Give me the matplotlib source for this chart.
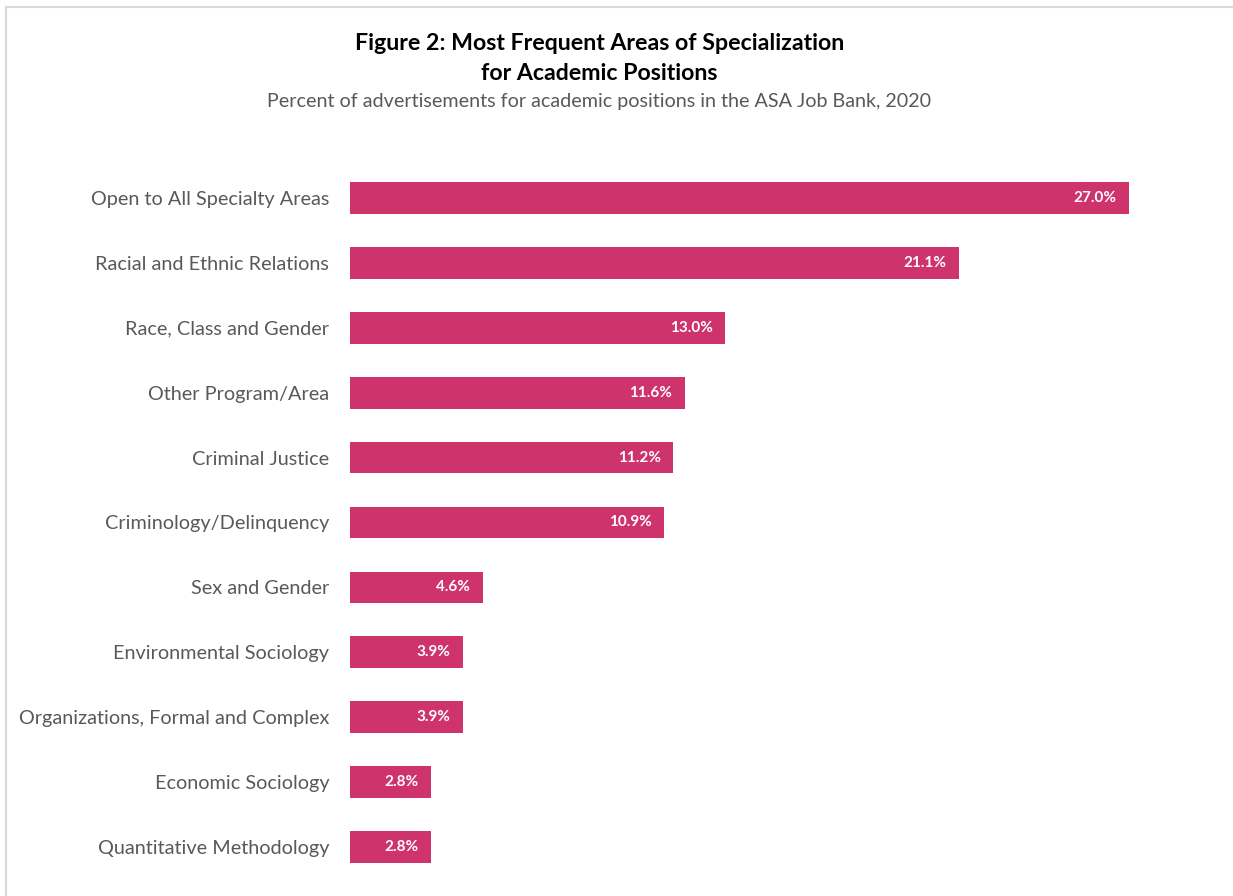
import matplotlib.pyplot as plt
from matplotlib.lines import Line2D

categories = [
    'Open to All Specialty Areas',
    'Racial and Ethnic Relations',
    'Race, Class and Gender',
    'Other Program/Area',
    'Criminal Justice',
    'Criminology/Delinquency',
    'Sex and Gender',
    'Environmental Sociology',
    'Organizations, Formal and Complex',
    'Economic Sociology',
    'Quantitative Methodology',
]
values = [27.0, 21.1, 13.0, 11.6, 11.2, 10.9, 4.6, 3.9, 3.9, 2.8, 2.8]

bar_color = '#CE346B'
plt.rcParams['font.family'] = ['Lato', 'DejaVu Sans']

fig = plt.figure(figsize=(12.33, 8.96), dpi=100)
ax = fig.add_axes([350 / 1233, 1 - 879.5 / 896, 850 / 1233, 714 / 896])

y = list(range(len(categories)))
ax.barh(y, values, height=0.49, color=bar_color)
ax.set_xlim(0, 850 / 28.85)
ax.set_ylim(len(categories) - 0.5, -0.5)

ax.set_yticks(y)
ax.set_yticklabels(categories, fontsize=14.3, color='#595959')
ax.tick_params(axis='y', length=0, pad=15)
ax.set_xticks([])
for s in ax.spines.values():
    s.set_visible(False)

for yi, v in zip(y, values):
    ax.annotate(f'{v:.1f}%', (v, yi), xytext=(-9, 0), textcoords='offset points',
                ha='right', va='center', color='white', fontsize=11, fontweight='bold')

fig.text(0.486, 1 - 44 / 896, 'Figure 2: Most Frequent Areas of Specialization',
         ha='center', va='center', fontsize=16.7, fontweight='bold', color='black')
fig.text(0.486, 1 - 73 / 896, 'for Academic Positions',
         ha='center', va='center', fontsize=16.7, fontweight='bold', color='black')
fig.text(0.486, 1 - 102 / 896, 'Percent of advertisements for academic positions in the ASA Job Bank, 2020',
         ha='center', va='center', fontsize=14.2, color='#595959')

# light frame around the chart area
fig.add_artist(Line2D([6 / 1233, 1], [1 - 7 / 896, 1 - 7 / 896], color='#D9D9D9', lw=1.5))
fig.add_artist(Line2D([6 / 1233, 6 / 1233], [0, 1 - 7 / 896], color='#D9D9D9', lw=1.5))

fig.savefig('out.png', dpi=100)
